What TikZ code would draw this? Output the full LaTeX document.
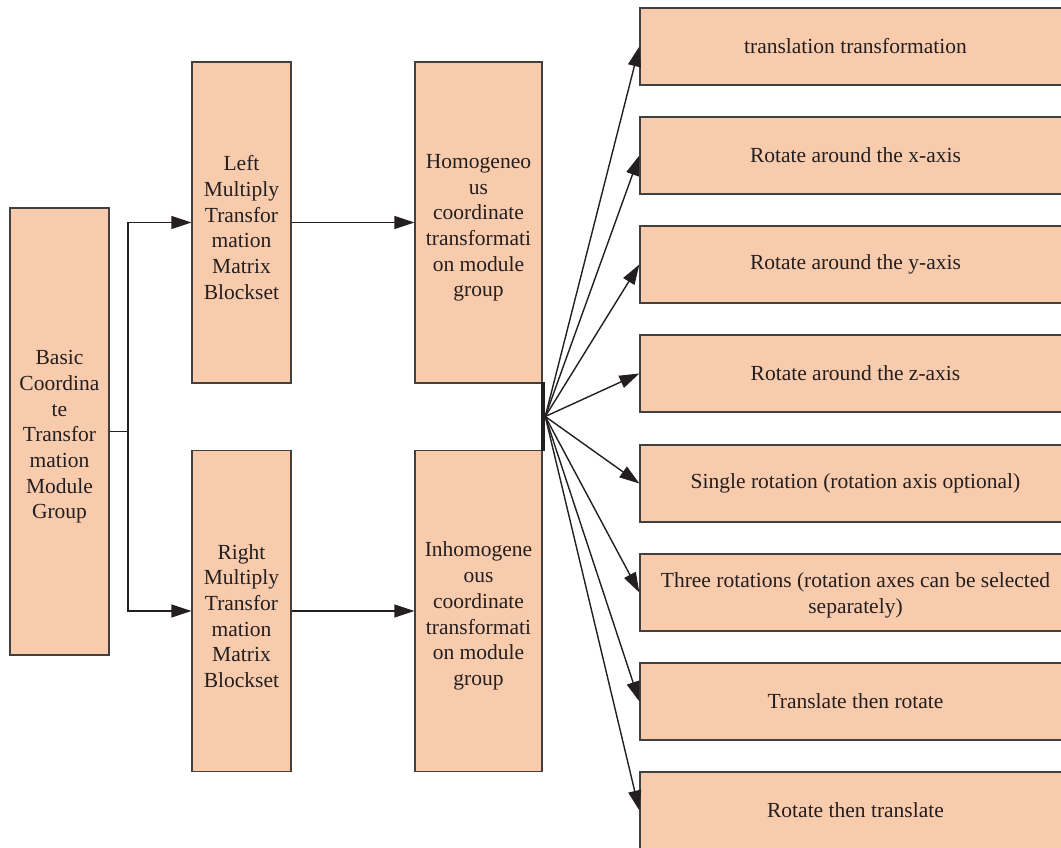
\documentclass[tikz,border=0pt]{standalone}
\usepackage{fontspec}
\setmainfont{Liberation Serif}
\usetikzlibrary{arrows.meta}
\definecolor{boxfill}{HTML}{F8CBAD}
\definecolor{boxline}{HTML}{404040}
\definecolor{ink}{HTML}{231F20}
\newcommand{\topstrut}[1]{\rule{0pt}{#1}}
\begin{document}
\begin{tikzpicture}[x=1pt,y=-1pt,
  blk/.style={draw=boxline,fill=boxfill,line width=1.3pt,inner sep=0pt,
    align=center,text=ink,font=\fontsize{21.5}{25.7}\selectfont},
  tall/.style={blk,minimum width=99pt,minimum height=321pt},
  wide/.style={blk,minimum width=431pt,minimum height=77pt},
  conn/.style={draw=ink,line width=1.4pt},
  arr/.style={conn,-{Triangle[length=20pt,width=13pt]}}]
\useasboundingbox (0,0) rectangle (1061,848);
\clip (0,0) rectangle (1061,848);

% source block
\node[blk,minimum width=99pt,minimum height=447pt] (basic) at (59.5,431.5)
  {\topstrut{25pt}Basic\\Coordina\\te\\Transfor\\mation\\Module\\Group};

% multiply blocksets
\node[tall] (left) at (241.5,222.5)
  {\topstrut{25pt}Left\\Multiply\\Transfor\\mation\\Matrix\\Blockset};
\node[tall] (right) at (241.5,611)
  {\topstrut{25pt}Right\\Multiply\\Transfor\\mation\\Matrix\\Blockset};

% coordinate transformation groups
\node[tall,minimum width=127pt] (homo) at (478.5,222.5)
  {\topstrut{25pt}Homogeneo\\us\\coordinate\\transformati\\on module\\group};
\node[tall,minimum width=127pt] (inhomo) at (478.5,611)
  {\topstrut{25pt}Inhomogene\\ous\\coordinate\\transformati\\on module\\group};

% junction bar
\node[fill=ink,inner sep=0pt,minimum width=4.5pt,minimum height=69pt] (bar) at (542.8,416.5) {};

% transformation options
\node[wide] (t1) at (855.5,46.5)  {translation transformation};
\node[wide] (t2) at (855.5,155.5) {Rotate around the x-axis};
\node[wide] (t3) at (855.5,264.5) {Rotate around the y-axis};
\node[wide] (t4) at (855.5,373.5) {Rotate around the z-axis};
\node[wide] (t5) at (855.5,483.5) {Single rotation (rotation axis optional)};
\node[wide] (t6) at (855.5,592.5) {\topstrut{21pt}Three rotations (rotation axes can be selected\\separately)};
\node[wide] (t7) at (855.5,701.5) {Translate then rotate};
\node[wide] (t8) at (855.5,810.5) {Rotate then translate};

% fork from the source block
\coordinate (fork) at (128,431.5);
\draw[conn] (basic.east) -- (fork);
\draw[arr] (fork) |- (left.west);
\draw[arr] (fork) |- (right.west);

% blocksets to groups
\draw[arr] (left.east) -- (homo.west);
\draw[arr] (right.east) -- (inhomo.west);

% fan-out to the options
\foreach \t in {t1,t2,t3,t4,t5,t6,t7,t8}
  \draw[arr] (bar.east) -- (\t.west);
\end{tikzpicture}
\end{document}
